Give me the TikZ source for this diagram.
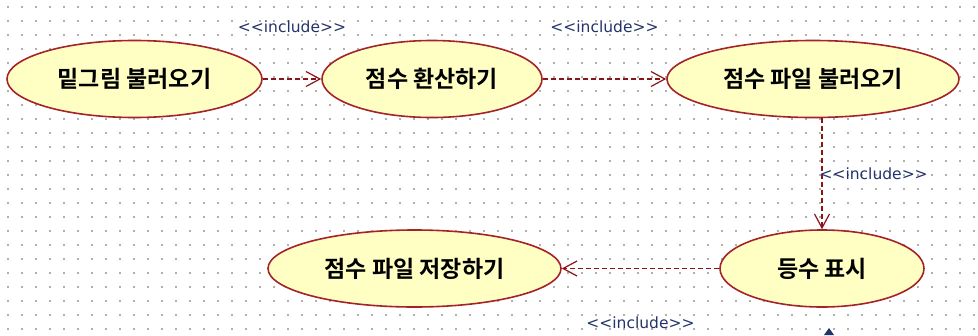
\documentclass[tikz,border=0pt]{standalone}
\usepackage{fontspec}
\usepackage{xcolor}
\usetikzlibrary{positioning,shapes.geometric,arrows.meta}
\newfontfamily\kofont{Noto Sans CJK KR Bold}
\newfontfamily\inclfont{DejaVu Sans}
\definecolor{ucfill}{RGB}{255,255,196}
\definecolor{ucline}{RGB}{165,35,40}
\definecolor{inclred}{RGB}{140,20,25}
\definecolor{inclblue}{RGB}{35,50,105}
\definecolor{griddot}{RGB}{175,175,175}

\begin{document}
\begin{tikzpicture}[x=1pt,y=-1pt,>={Straight Barb[length=14pt,width=15pt]},
                usecase/.style={ellipse,draw=ucline,fill=ucfill,line width=1.6pt,inner sep=0pt,
                    minimum height=77pt,font=\kofont\fontsize{23}{23}\selectfont},
                incl/.style={->,color=inclred,dash pattern=on 5pt off 3pt,line width=1.2pt},
                incl label/.style={text=inclblue,inner sep=1pt,font=\inclfont\fontsize{15.5}{16}\selectfont}]
\useasboundingbox (0,0) rectangle (978,335);
%Grid
    \foreach \i in {0,...,69}
      \foreach \j in {0,...,23}
        \fill[griddot] (6.8+14*\i,6.3+14*\j) rectangle +(1.8,1.8);
%Nodes
    \node[usecase, minimum width=255pt] (Load) at (134.5,79) {밑그림 불러오기};
    \node[usecase, minimum width=220pt] (Convert) at (432,79) {점수 환산하기};
    \node[usecase, minimum width=292pt] (FileLoad) at (813,79) {점수 파일 불러오기};
    \node[usecase, minimum width=204pt] (Show) at (822,268.5) {등수 표시};
    \node[usecase, minimum width=293pt] (Save) at (414.5,268.5) {점수 파일 저장하기};

    \path[incl] (Load) edge node[incl label, above=45pt] {<<include>>} (Convert);
    \path[incl] (Convert) edge node[incl label, above=45pt] {<<include>>} (FileLoad);
    \path[incl] (Show.north |- FileLoad.south) edge node[incl label, right, xshift=-4pt] {<<include>>} (Show.north);
    \path[incl] (Show) edge node[incl label, below=47pt] {<<include>>} (Save);

    \fill[inclblue] (824,335) -- (829,328) -- (834,335) -- cycle;
\end{tikzpicture}
\end{document}
